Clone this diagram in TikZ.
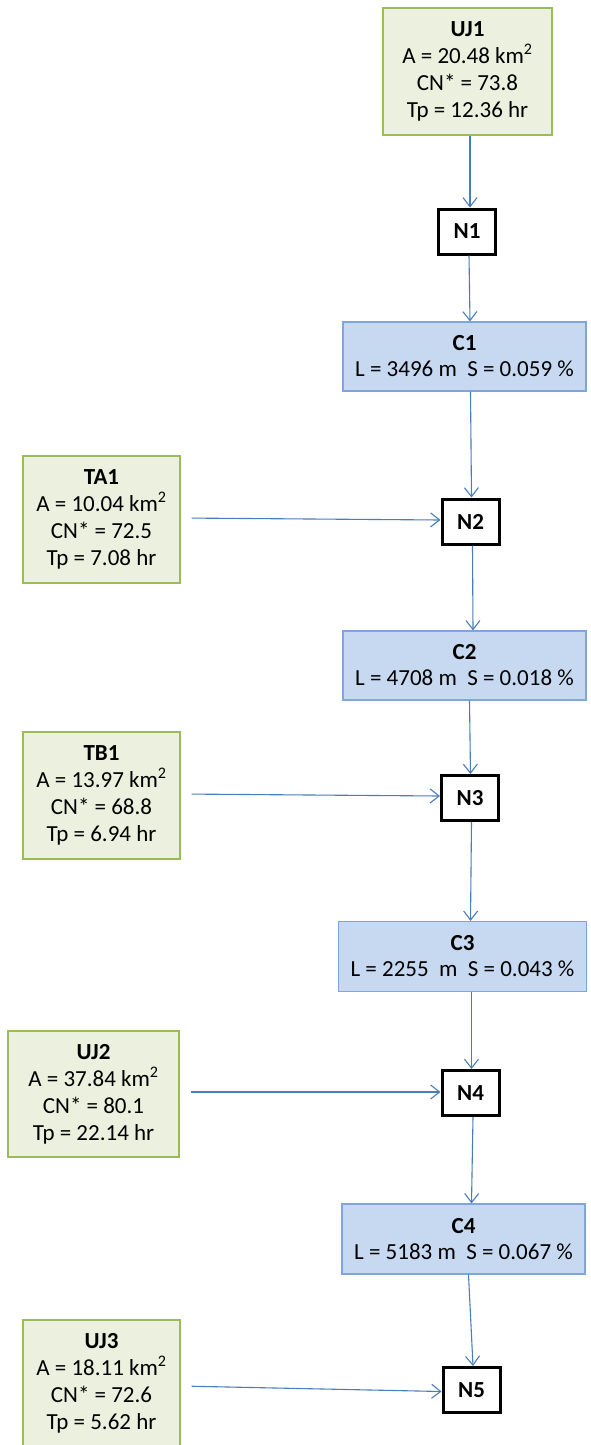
\documentclass[tikz,border=0pt]{standalone}
\usepackage{fontspec}
\setmainfont{Carlito}
\usetikzlibrary{arrows.meta}
\definecolor{gfill}{HTML}{EBF1DE}
\definecolor{gdraw}{HTML}{9BBB59}
\definecolor{bfill}{HTML}{C6D9F1}
\definecolor{bdraw}{HTML}{7EA6DC}
\definecolor{arr}{HTML}{4A7EBB}
\begin{document}
\begin{tikzpicture}[x=1pt,y=-1pt,
  basin/.style={draw=gdraw, fill=gfill, line width=1.2pt, inner sep=0pt,
    minimum width=157pt, minimum height=127pt, align=center,
    font=\fontsize{23}{27}\selectfont},
  reach/.style={draw=bdraw, fill=bfill, line width=1.2pt, inner sep=0pt,
    minimum width=243pt, minimum height=69pt, align=center,
    font=\fontsize{23}{26}\selectfont},
  junction/.style={draw=black, line width=3pt, fill=white, inner sep=0pt,
    minimum width=57pt, minimum height=45pt,
    font=\fontsize{23}{26}\selectfont\bfseries},
  flow/.style={draw=arr, line width=1.1pt, -{Straight Barb[length=9pt,width=14pt]}},
  side/.style={flow, shorten <=11pt}]
\useasboundingbox[fill=white] (0,0) rectangle (590,1445);

\node[basin, minimum width=169pt] (UJ1) at (467.5,71.5)
  {\textbf{UJ1}\\A = 20.48 km\textsuperscript{2}\\CN* = 73.8\\Tp = 12.36 hr};
\node[junction] (N1) at (467,231.5) {N1};
\node[reach] (C1) at (464.5,356.5) {\textbf{C1}\\L = 3496 m\ \ S = 0.059 \%};
\node[basin] (TA1) at (101.5,519.5)
  {\textbf{TA1}\\A = 10.04 km\textsuperscript{2}\\CN* = 72.5\\Tp = 7.08 hr};
\node[junction] (N2) at (470.5,521.5) {N2};
\node[reach] (C2) at (464.5,665.5) {\textbf{C2}\\L = 4708 m\ \ S = 0.018 \%};
\node[basin] (TB1) at (101.5,795.5)
  {\textbf{TB1}\\A = 13.97 km\textsuperscript{2}\\CN* = 68.8\\Tp = 6.94 hr};
\node[junction] (N3) at (470,798) {N3};
\node[reach, minimum width=248pt, minimum height=70pt] (C3) at (462.5,956.5)
  {\textbf{C3}\\L = 2255\ \ m\ \ S = 0.043 \%};
\node[basin, minimum width=171pt, minimum height=126pt] (UJ2) at (93.5,1094)
  {\textbf{UJ2}\\A = 37.84 km\textsuperscript{2}\\CN* = 80.1\\Tp = 22.14 hr};
\node[junction] (N4) at (470.5,1093) {N4};
\node[reach, minimum height=70pt] (C4) at (463.5,1239) {\textbf{C4}\\L = 5183 m\ \ S = 0.067 \%};
\node[basin] (UJ3) at (101.5,1383.5)
  {\textbf{UJ3}\\A = 18.11 km\textsuperscript{2}\\CN* = 72.6\\Tp = 5.62 hr};
\node[junction] (N5) at (471.5,1390) {N5};

\draw[flow] ([xshift=2.5pt]UJ1.south) -- ([xshift=3pt]N1.north);
\draw[flow] ([xshift=2pt]N1.south) -- ([xshift=5.5pt]C1.north);
\draw[flow] ([xshift=6pt]C1.south) -- ([xshift=1pt]N2.north);
\draw[flow] ([xshift=2pt]N2.south) -- ([xshift=8.5pt]C2.north);
\draw[flow] ([xshift=5pt]C2.south) -- ([xshift=0.5pt]N3.north);
\draw[flow] ([xshift=1.5pt]N3.south) -- ([xshift=8pt]C3.north);
\draw[flow] ([xshift=9pt]C3.south) -- ([xshift=1pt]N4.north);
\draw[flow] ([xshift=2.5pt]N4.south) -- ([xshift=8pt]C4.north);
\draw[flow] ([xshift=5pt]C4.south) -- ([xshift=1.5pt]N5.north);

\draw[side] ([yshift=1.5pt]TA1.east) -- ([yshift=1.5pt]N2.west);
\draw[side] ([yshift=1.5pt]TB1.east) -- ([yshift=2pt]N3.west);
\draw[side] ([yshift=2pt]UJ2.east) -- ([yshift=1pt]N4.west);
\draw[side] ([yshift=-2.5pt]UJ3.east) -- ([yshift=-1.5pt]N5.west);
\end{tikzpicture}
\end{document}
